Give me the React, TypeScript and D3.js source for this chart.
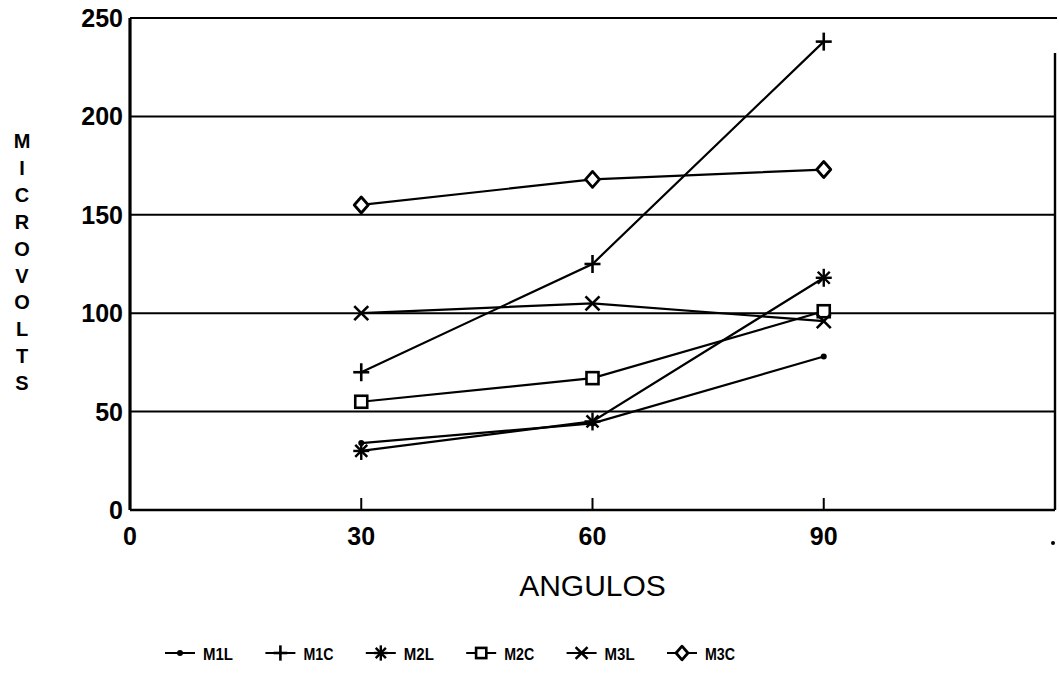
import React from "react";
import * as d3 from "d3";

const angles = [30, 60, 90];
const xTicks = [0, 30, 60, 90];
const yTicks = [0, 50, 100, 150, 200, 250];
const seriesNames = ["M1L", "M1C", "M2L", "M2C", "M3L", "M3C"];
const markerTypes = ["dot", "plus", "star", "square", "cross", "diamond"];
const M1L = [34, 44, 78];
const M1C = [70, 125, 238];
const M2L = [30, 45, 118];
const M2C = [55, 67, 101];
const M3L = [100, 105, 96];
const M3C = [155, 168, 173];
const seriesValues = [M1L, M1C, M2L, M2C, M3L, M3C];
const yTitle = "MICROVOLTS";
const xTitle = "ANGULOS";

const W = 1059;
const H = 673;
const L = 130, R = 1055, T = 18, B = 510;

function Marker({ type, x, y, s = 1 }: { type: string; x: number; y: number; s?: number }) {
  switch (type) {
    case "dot":
      return <circle cx={x} cy={y} r={3} fill="#000" />;
    case "plus":
      return (
        <g stroke="#000" strokeWidth={2.6}>
          <line x1={x - 8 * s} y1={y} x2={x + 8 * s} y2={y} />
          <line x1={x} y1={y - 9 * s} x2={x} y2={y + 9 * s} />
        </g>
      );
    case "star":
      return (
        <g stroke="#000" strokeWidth={2.4}>
          <line x1={x - 8 * s} y1={y} x2={x + 8 * s} y2={y} />
          <line x1={x} y1={y - 9 * s} x2={x} y2={y + 9 * s} />
          <line x1={x - 6 * s} y1={y - 6 * s} x2={x + 6 * s} y2={y + 6 * s} />
          <line x1={x - 6 * s} y1={y + 6 * s} x2={x + 6 * s} y2={y - 6 * s} />
        </g>
      );
    case "square":
      return (
        <rect x={x - 6 * s} y={y - 6 * s} width={12 * s} height={12 * s} fill="#fff" stroke="#000" strokeWidth={2.6} />
      );
    case "cross":
      return (
        <g stroke="#000" strokeWidth={2.6}>
          <line x1={x - 7 * s} y1={y - 7 * s} x2={x + 7 * s} y2={y + 7 * s} />
          <line x1={x - 7 * s} y1={y + 7 * s} x2={x + 7 * s} y2={y - 7 * s} />
        </g>
      );
    case "diamond":
      return (
        <path
          d={`M${x},${y - 8 * s} L${x + 7 * s},${y} L${x},${y + 8 * s} L${x - 7 * s},${y} Z`}
          fill="#fff"
          stroke="#000"
          strokeWidth={2.8}
          strokeLinejoin="round"
        />
      );
    default:
      return null;
  }
}

export default function App() {
  const x = d3.scaleLinear().domain([0, 120]).range([L, R]);
  const y = d3.scaleLinear().domain([0, 250]).range([B, T]);
  const line = d3
    .line<number>()
    .x((_, i) => x(angles[i]))
    .y((d) => y(d));

  const font = "'Liberation Sans', Arial, sans-serif";
  const legendX = d3.scalePoint<string>().domain(seriesNames).range([165, 667]);

  return (
    <svg
      width={W}
      height={H}
      style={{ position: "absolute", left: 0, top: 0, background: "#fff" }}
      fontFamily={font}
    >
      <rect width={W} height={H} fill="#fff" />
      {yTicks.filter((t) => t > 0 && t < 250).map((t) => (
        <line key={t} x1={L} x2={R} y1={y(t)} y2={y(t)} stroke="#000" strokeWidth={2} />
      ))}
      <line x1={L} x2={R + 2} y1={T} y2={T} stroke="#000" strokeWidth={2.2} />
      <line x1={R} x2={R} y1={T + 35} y2={B} stroke="#000" strokeWidth={2.4} />
      <line x1={L} x2={R} y1={B} y2={B} stroke="#000" strokeWidth={2.6} />
      <line x1={L} x2={L} y1={T} y2={B} stroke="#000" strokeWidth={3.2} />
      {angles.map((a) => (
        <line key={a} x1={x(a)} x2={x(a)} y1={B} y2={B - 12} stroke="#000" strokeWidth={2} />
      ))}
      {yTicks.map((t) => (
        <text key={t} x={L - 7} y={y(t)} textAnchor="end" dominantBaseline="central" fontSize={25} fontWeight="bold">
          {t}
        </text>
      ))}
      {xTicks.map((t) => (
        <text key={t} x={x(t)} y={536} textAnchor="middle" dominantBaseline="central" fontSize={25} fontWeight="bold">
          {t}
        </text>
      ))}
      <circle cx={x(120) - 2} cy={543} r={2} fill="#000" />
      <text x={x(60)} y={585} textAnchor="middle" dominantBaseline="central" fontSize={30}>
        {xTitle}
      </text>
      {yTitle.split("").map((ch, i) => (
        <text
          key={i}
          x={22}
          y={141 + i * 26.9}
          textAnchor="middle"
          dominantBaseline="central"
          fontSize={20}
          fontWeight="bold"
        >
          {ch}
        </text>
      ))}
      {seriesValues.map((vals, si) => (
        <g key={si}>
          <path d={line(vals) || ""} fill="none" stroke="#000" strokeWidth={2.2} />
          {vals.map((v, i) => (
            <Marker key={i} type={markerTypes[si]} x={x(angles[i])} y={y(v)} />
          ))}
        </g>
      ))}
      {seriesNames.map((n, i) => {
        const lx = legendX(n) as number;
        return (
          <g key={n}>
            <line x1={lx} x2={lx + 30} y1={653} y2={653} stroke="#000" strokeWidth={2} />
            <Marker type={markerTypes[i]} x={lx + 15} y={653} s={0.85} />
            <text
              x={lx + 38}
              y={654}
              dominantBaseline="central"
              fontSize={16}
              fontWeight="bold"
              textLength={30}
              lengthAdjust="spacingAndGlyphs"
            >
              {n}
            </text>
          </g>
        );
      })}
    </svg>
  );
}
